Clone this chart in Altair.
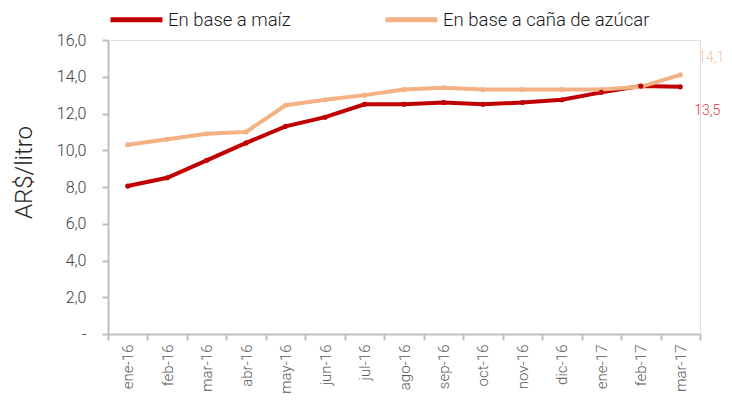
import altair as alt
import pandas as pd

months = ["ene-16", "feb-16", "mar-16", "abr-16", "may-16", "jun-16", "jul-16",
          "ago-16", "sep-16", "oct-16", "nov-16", "dic-16", "ene-17", "feb-17", "mar-17"]
maiz = [8.05, 8.5, 9.45, 10.4, 11.3, 11.8, 12.5, 12.5, 12.6, 12.5, 12.6, 12.75, 13.15, 13.5, 13.45]
azucar = [10.3, 10.6, 10.9, 11.0, 12.45, 12.75, 13.0, 13.3, 13.4, 13.3, 13.3, 13.3, 13.3, 13.45, 14.1]
series = ["En base a maíz", "En base a caña de azúcar"]
colors = ["#C00000", "#F4B183"]
label_colors = ["#D9363E", "#F6C3A0"]

rows = []
for m, a, b in zip(months, maiz, azucar):
    rows.append({"mes": m, "serie": series[0], "valor": a})
    rows.append({"mes": m, "serie": series[1], "valor": b})
df = pd.DataFrame(rows)

FONT = "Roboto"

x_enc = alt.X("mes:O", sort=months, title=None,
              scale=alt.Scale(type="band", paddingInner=0, paddingOuter=0),
              axis=alt.Axis(labelAngle=270, labelFontSize=15, labelColor="#595959",
                            labelFont=FONT, labelFontWeight=300, labelPadding=4,
                            tickBand="extent", tickSize=6, tickColor="#BFBFBF",
                            tickWidth=2, domainColor="#BFBFBF", domainWidth=2,
                            labelBaseline="middle", labelAlign="right"))
y_enc = alt.Y("valor:Q", title="AR$/litro",
              scale=alt.Scale(domain=[0, 16], nice=False),
              axis=alt.Axis(values=[0, 2, 4, 6, 8, 10, 12, 14, 16], tickCount=9,
                            labelExpr="datum.value == 0 ? '-' : replace(format(datum.value, '.1f'), '.', ',')",
                            labelFontSize=16, labelColor="#404040", labelFont=FONT,
                            labelFontWeight=300, labelPadding=16, labelOverlap=False,
                            tickSize=6, tickColor="#BFBFBF", tickWidth=2,
                            domainColor="#BFBFBF", domainWidth=2, grid=False,
                            titleFontSize=24, titleFont=FONT, titleFontWeight=300,
                            titleColor="#262626", titlePadding=20, titleY=132))

lines = alt.Chart(df).mark_line(
    strokeWidth=4, point=alt.OverlayMarkDef(size=26, filled=True)
).encode(
    x=x_enc, y=y_enc,
    color=alt.Color("serie:N", sort=series,
                    scale=alt.Scale(domain=series, range=colors),
                    legend=alt.Legend(title=None, orient="none", direction="horizontal",
                                      legendX=0, legendY=-49, symbolType="stroke",
                                      symbolSize=2700, symbolStrokeWidth=5,
                                      labelFontSize=18.5, labelFont=FONT, labelFontWeight=300,
                                      labelColor="#1a1a1a", labelOffset=3, labelLimit=400,
                                      columnPadding=84)),
    order=alt.Order("serie:N")
)

lab_df = pd.DataFrame({
    "mes": [months[-1], months[-1]],
    "valor": [azucar[-1], maiz[-1]],
    "txt": [f"{azucar[-1]:.1f}".replace(".", ","), f"{round(maiz[-1] + 1e-9, 1):.1f}".replace(".", ",")],
})

lab_top = alt.Chart(lab_df.iloc[[0]]).mark_text(
    dx=18, dy=-17, align="left", fontSize=14, font=FONT, fontWeight=300, color=label_colors[1]
).encode(x=x_enc, y=y_enc, text="txt:N")
lab_bot = alt.Chart(lab_df.iloc[[1]]).mark_text(
    dx=14, dy=24, align="left", fontSize=14, font=FONT, fontWeight=300, color=label_colors[0]
).encode(x=x_enc, y=y_enc, text="txt:N")

chart = alt.layer(lines, lab_top, lab_bot).properties(
    width=592, height=294,
    autosize=alt.AutoSizeParams(type="none"),
    padding={"left": 100, "top": 32, "right": 24, "bottom": 59},
).configure_view(stroke=None).configure(background="white")

chart.save("out.html", embed_options={"renderer": "svg", "actions": False})
